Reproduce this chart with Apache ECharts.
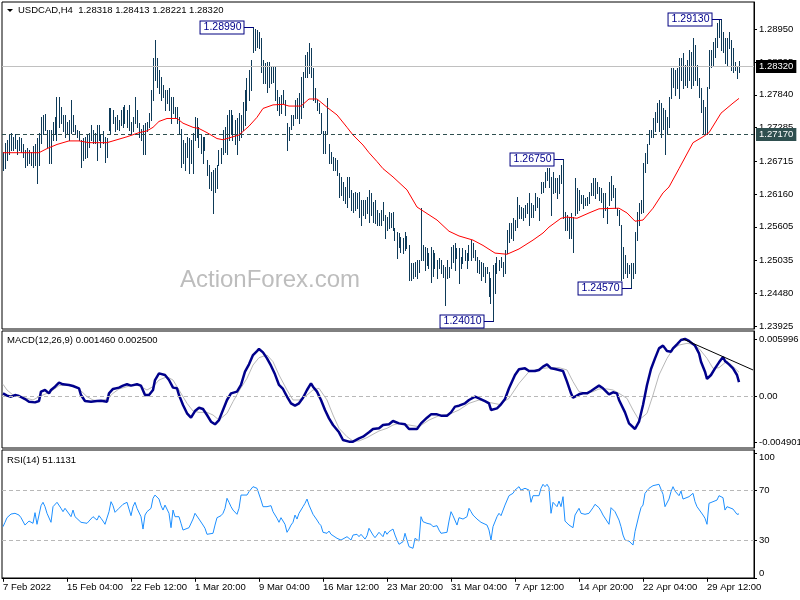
<!DOCTYPE html>
<html><head><meta charset="utf-8">
<script src="https://cdn.jsdelivr.net/npm/echarts@6/dist/echarts.min.js"></script>
<style>html,body{margin:0;padding:0;background:#fff}#c{width:800px;height:600px}</style>
</head><body><div id="c"></div>
<script>
// ---------- DATA ----------
const symbolName = 'USDCAD,H4';
const lastOHLC = [1.28318, 1.28413, 1.28221, 1.28320];
const macdLegend = [0.001460, 0.002500];
const rsiLegend = 51.1131;
const xTickLabels = ['7 Feb 2022','15 Feb 04:00','22 Feb 12:00','1 Mar 20:00','9 Mar 04:00','16 Mar 12:00','23 Mar 20:00','31 Mar 04:00','7 Apr 12:00','14 Apr 20:00','22 Apr 04:00','29 Apr 12:00'];
const priceTicks = [1.28950,1.28395,1.27840,1.27285,1.26715,1.26160,1.25605,1.25035,1.24480,1.23925];
const macdTicks = [0.005996, 0, -0.004901];
const rsiTicks = [100, 70, 30, 0];
const rsiLevels = [70, 30];
const currentPrice = 1.28320;
const supportLevel = 1.27170;

const barHigh = [
1.2688,1.2703,1.2708,1.2717,1.2720,1.2713,1.2717,1.2708,1.2713,1.2711,
1.2700,1.2691,1.2694,1.2691,1.2688,1.2698,1.2700,1.2711,1.2720,1.2746,
1.2750,1.2751,1.2725,1.2725,1.2725,1.2738,1.2746,1.2780,1.2780,1.2763,
1.2750,1.2750,1.2738,1.2741,1.2775,1.2750,1.2733,1.2725,1.2722,1.2708,
1.2711,1.2713,1.2717,1.2720,1.2733,1.2725,1.2720,1.2733,1.2733,1.2717,
1.2722,1.2713,1.2711,1.2761,1.2761,1.2758,1.2746,1.2750,1.2741,1.2758,
1.2763,1.2767,1.2758,1.2767,1.2738,1.2746,1.2780,1.2758,1.2736,1.2727,
1.2733,1.2736,1.2738,1.2753,1.2792,1.2846,1.2877,1.2846,1.2826,1.2814,
1.2801,1.2792,1.2792,1.2795,1.2780,1.2780,1.2763,1.2763,1.2746,1.2727,
1.2708,1.2703,1.2713,1.2711,1.2708,1.2720,1.2746,1.2744,1.2729,1.2717,
1.2713,1.2713,1.2674,1.2666,1.2654,1.2657,1.2660,1.2666,1.2691,1.2694,
1.2725,1.2729,1.2750,1.2758,1.2758,1.2750,1.2741,1.2744,1.2753,1.2750,
1.2772,1.2792,1.2812,1.2826,1.2843,1.2899,1.2896,1.2894,1.2891,1.2880,
1.2843,1.2838,1.2840,1.2840,1.2831,1.2831,1.2831,1.2792,1.2780,1.2784,
1.2792,1.2775,1.2736,1.2729,1.2750,1.2750,1.2775,1.2778,1.2787,1.2814,
1.2823,1.2851,1.2857,1.2872,1.2863,1.2829,1.2795,1.2775,1.2770,1.2753,
1.2722,1.2722,1.2778,1.2700,1.2688,1.2679,1.2677,1.2674,1.2652,1.2645,
1.2637,1.2628,1.2645,1.2645,1.2623,1.2618,1.2620,1.2618,1.2620,1.2606,
1.2606,1.2606,1.2611,1.2623,1.2618,1.2603,1.2606,1.2589,1.2584,1.2589,
1.2603,1.2580,1.2577,1.2586,1.2584,1.2586,1.2558,1.2552,1.2550,1.2543,
1.2541,1.2552,1.2545,1.2529,1.2499,1.2499,1.2501,1.2504,1.2504,1.2592,
1.2529,1.2526,1.2524,1.2516,1.2526,1.2521,1.2516,1.2504,1.2507,1.2504,
1.2495,1.2492,1.2504,1.2492,1.2526,1.2529,1.2533,1.2524,1.2524,1.2509,
1.2524,1.2521,1.2516,1.2529,1.2538,1.2533,1.2521,1.2509,1.2504,1.2501,
1.2499,1.2492,1.2492,1.2484,1.2473,1.2495,1.2499,1.2509,1.2504,1.2509,
1.2501,1.2521,1.2555,1.2567,1.2567,1.2575,1.2572,1.2611,1.2597,1.2594,
1.2592,1.2597,1.2601,1.2618,1.2601,1.2597,1.2618,1.2611,1.2609,1.2637,
1.2637,1.2654,1.2660,1.2660,1.2645,1.2654,1.2643,1.2643,1.2648,1.2666,
1.2675,1.2586,1.2580,1.2577,1.2584,1.2577,1.2643,1.2626,1.2623,1.2614,
1.2614,1.2609,1.2611,1.2620,1.2635,1.2643,1.2643,1.2637,1.2628,1.2626,
1.2618,1.2618,1.2594,1.2637,1.2647,1.2631,1.2626,1.2592,1.2589,1.2563,
1.2526,1.2512,1.2499,1.2495,1.2499,1.2499,1.2552,1.2586,1.2601,1.2606,
1.2669,1.2686,1.2700,1.2725,1.2725,1.2744,1.2755,1.2770,1.2775,1.2770,
1.2761,1.2758,1.2746,1.2780,1.2829,1.2829,1.2826,1.2829,1.2846,1.2846,
1.2855,1.2834,1.2843,1.2860,1.2857,1.2880,1.2868,1.2834,1.2812,1.2795,
1.2775,1.2763,1.2797,1.2860,1.2860,1.2874,1.2880,1.2906,1.2911,1.2913,
1.2891,1.2880,1.2880,1.2891,1.2877,1.2863,1.2840,1.2831,1.2841];

const barLow = [
1.2657,1.2660,1.2674,1.2683,1.2691,1.2691,1.2694,1.2683,1.2691,1.2688,
1.2679,1.2662,1.2666,1.2669,1.2666,1.2662,1.2666,1.2635,1.2666,1.2703,
1.2717,1.2725,1.2696,1.2669,1.2669,1.2708,1.2717,1.2708,1.2729,1.2736,
1.2722,1.2713,1.2717,1.2708,1.2720,1.2722,1.2717,1.2713,1.2708,1.2662,
1.2674,1.2677,1.2679,1.2696,1.2708,1.2703,1.2703,1.2674,1.2708,1.2696,
1.2703,1.2671,1.2679,1.2725,1.2720,1.2736,1.2722,1.2727,1.2725,1.2733,
1.2729,1.2736,1.2729,1.2725,1.2720,1.2722,1.2736,1.2729,1.2713,1.2708,
1.2683,1.2683,1.2722,1.2729,1.2741,1.2775,1.2809,1.2797,1.2787,1.2775,
1.2780,1.2758,1.2770,1.2758,1.2736,1.2753,1.2746,1.2736,1.2720,1.2662,
1.2669,1.2657,1.2679,1.2652,1.2669,1.2652,1.2708,1.2713,1.2696,1.2686,
1.2669,1.2691,1.2648,1.2626,1.2623,1.2584,1.2620,1.2626,1.2666,1.2669,
1.2683,1.2688,1.2683,1.2708,1.2717,1.2708,1.2700,1.2683,1.2708,1.2713,
1.2725,1.2733,1.2758,1.2775,1.2792,1.2857,1.2860,1.2865,1.2863,1.2823,
1.2804,1.2804,1.2789,1.2797,1.2804,1.2806,1.2775,1.2758,1.2750,1.2753,
1.2770,1.2750,1.2691,1.2708,1.2727,1.2733,1.2744,1.2744,1.2736,1.2744,
1.2763,1.2814,1.2814,1.2821,1.2814,1.2775,1.2772,1.2758,1.2753,1.2720,
1.2686,1.2686,1.2717,1.2669,1.2669,1.2657,1.2657,1.2648,1.2611,1.2614,
1.2606,1.2601,1.2594,1.2611,1.2589,1.2586,1.2589,1.2592,1.2577,1.2563,
1.2580,1.2575,1.2584,1.2569,1.2580,1.2569,1.2567,1.2563,1.2563,1.2563,
1.2572,1.2541,1.2555,1.2558,1.2560,1.2555,1.2538,1.2507,1.2526,1.2518,
1.2516,1.2521,1.2524,1.2470,1.2470,1.2473,1.2478,1.2473,1.2484,1.2504,
1.2504,1.2487,1.2495,1.2490,1.2467,1.2478,1.2490,1.2473,1.2490,1.2482,
1.2475,1.2428,1.2473,1.2475,1.2490,1.2501,1.2487,1.2507,1.2465,1.2490,
1.2499,1.2504,1.2490,1.2504,1.2504,1.2509,1.2504,1.2484,1.2482,1.2470,
1.2478,1.2467,1.2482,1.2443,1.2432,1.2401,1.2448,1.2482,1.2487,1.2492,
1.2478,1.2482,1.2516,1.2535,1.2541,1.2538,1.2555,1.2560,1.2575,1.2575,
1.2572,1.2577,1.2584,1.2563,1.2577,1.2577,1.2589,1.2594,1.2572,1.2618,
1.2620,1.2628,1.2640,1.2628,1.2580,1.2618,1.2620,1.2609,1.2618,1.2635,
1.2575,1.2555,1.2555,1.2541,1.2541,1.2518,1.2580,1.2584,1.2589,1.2601,
1.2592,1.2597,1.2597,1.2601,1.2614,1.2614,1.2609,1.2618,1.2606,1.2603,
1.2577,1.2589,1.2567,1.2597,1.2606,1.2611,1.2592,1.2580,1.2563,1.2470,
1.2473,1.2482,1.2475,1.2482,1.2457,1.2473,1.2482,1.2538,1.2563,1.2584,
1.2586,1.2654,1.2669,1.2700,1.2713,1.2713,1.2722,1.2738,1.2722,1.2713,
1.2727,1.2683,1.2720,1.2729,1.2778,1.2797,1.2784,1.2795,1.2778,1.2809,
1.2795,1.2801,1.2797,1.2809,1.2795,1.2801,1.2809,1.2801,1.2780,1.2755,
1.2720,1.2720,1.2717,1.2795,1.2831,1.2834,1.2848,1.2865,1.2882,1.2860,
1.2857,1.2838,1.2834,1.2863,1.2826,1.2823,1.2826,1.2812,1.2822];

// moving average (read at sampled bars)
const maIdx = [0,18,22,27,33,38,43,48,52,55,62,68,72,75,78,82,87,90,95,98,102,107,110,115,118,123,127,130,135,140,143,149,153,157,162,167,172,175,180,183,187,190,195,202,207,217,223,228,235,240,246,252,258,265,270,273,279,282,287,293,298,308,312,316,320,325,330,333,338,345,350,353,359,365,368];
const maVal = [1.2686,1.2686,1.2693,1.2700,1.2706,1.2706,1.2703,1.2703,1.2703,1.2706,1.2713,1.2720,1.2723,1.2729,1.2739,1.2744,1.2744,1.2736,1.2729,1.2727,1.2720,1.2710,1.2708,1.2713,1.2716,1.2731,1.2746,1.2761,1.2767,1.2768,1.2765,1.2765,1.2777,1.2777,1.2763,1.2750,1.2729,1.2716,1.2699,1.2686,1.2671,1.2659,1.2645,1.2623,1.2594,1.2572,1.2553,1.2545,1.2538,1.2529,1.2516,1.2514,1.2523,1.2538,1.2550,1.2560,1.2575,1.2577,1.2575,1.2584,1.2591,1.2592,1.2584,1.2570,1.2572,1.2592,1.2618,1.2628,1.2659,1.2703,1.2713,1.2720,1.2753,1.2770,1.2778];

// MACD main line
const macdIdx = [0,2,4,6,8,11,13,16,18,19,21,23,24,26,28,30,33,35,38,39,41,44,47,49,52,53,55,58,60,62,64,67,69,71,73,75,76,78,79,81,83,85,87,88,90,92,94,96,98,100,102,104,106,108,110,112,114,117,119,121,123,125,127,128,130,132,134,136,138,140,142,144,146,148,150,152,154,155,157,159,161,163,165,168,170,173,175,178,180,183,185,188,190,193,195,198,201,203,207,209,212,214,217,219,222,224,226,228,231,233,236,238,241,243,244,247,249,251,253,256,258,261,263,266,268,270,272,274,276,278,280,282,284,285,288,290,292,294,296,298,300,303,305,307,308,311,313,316,318,320,322,324,326,328,330,332,334,335,337,339,341,343,344,346,348,349,351,352,354,356,358,360,361,363,365,367,368];
const macdVal = [0.00028,0.00004,-0.00007,0.0001,0,-0.00032,-0.0006,-0.00067,-0.00053,0.00046,0.00063,0.00028,0.00063,0.00098,0.0014,0.00123,0.00116,0.00105,0.00081,0.0001,-0.00053,-0.0006,-0.00053,-0.00049,-0.0006,0.00028,0.00074,0.00088,0.00109,0.00123,0.00109,0.00123,0.00109,0.0001,0.0001,0.00063,0.00168,0.00238,0.00256,0.00221,0.00168,0.00088,0.00081,0.0001,-0.00095,-0.00182,-0.00228,-0.00158,-0.00123,-0.00137,-0.002,-0.0027,-0.00298,-0.00253,-0.00147,-0.00042,0.00028,0.00046,0.00116,0.00256,0.00333,0.00431,0.00473,0.00495,0.00459,0.00396,0.00319,0.00228,0.00116,0.00074,-0.00007,-0.00077,-0.00102,-0.00077,-0.00018,0.00063,0.00133,0.00098,0.00046,-0.00042,-0.00147,-0.00235,-0.00305,-0.00382,-0.00463,-0.0048,-0.0048,-0.00445,-0.00428,-0.00382,-0.00347,-0.0034,-0.00305,-0.00298,-0.00263,-0.00288,-0.00298,-0.00347,-0.00347,-0.00288,-0.00228,-0.00193,-0.00193,-0.00207,-0.00207,-0.00172,-0.00112,-0.00102,-0.00077,-0.00042,-0.00007,-0.00025,-0.00053,-0.00077,-0.00147,-0.0013,-0.00088,-0.00032,0.00081,0.00221,0.00281,0.00291,0.00263,0.00263,0.00274,0.00309,0.00333,0.00291,0.00284,0.00274,0.00263,0.00151,0.00028,-0.00018,0.00018,0.00028,0.00028,0.00053,0.00081,0.00109,0.00081,0.00018,0.00039,0.00028,-0.00042,-0.00172,-0.00288,-0.00347,-0.0027,-0.00095,0.00116,0.00284,0.00396,0.00501,0.0053,0.00473,0.00466,0.00501,0.00544,0.00589,0.006,0.00579,0.00565,0.0053,0.00449,0.00361,0.00256,0.00179,0.00221,0.00291,0.00354,0.0041,0.00368,0.00333,0.00291,0.00221,0.00146];

// MACD signal line
const sigIdx = [0,2,5,8,12,15,18,22,25,28,32,35,38,42,45,48,52,55,58,62,65,68,72,75,78,82,85,88,92,95,98,102,105,108,112,115,118,122,125,128,132,135,138,142,145,148,152,155,158,162,165,168,172,175,178,182,185,188,192,195,198,203,208,213,218,223,228,233,238,243,248,253,258,263,268,273,278,282,285,288,292,295,298,302,305,308,312,315,318,322,325,328,332,335,338,342,345,348,352,355,358,362,365,368];
const sigVal = [0.00123,0.00063,0.0001,-0.00007,-0.00025,-0.00042,-0.00007,0.00028,0.00063,0.00109,0.00116,0.00109,0.00074,-0.00007,-0.00042,-0.00053,-0.00032,0.00028,0.00074,0.00098,0.00116,0.00109,0.00063,0.00098,0.00168,0.00203,0.00168,0.00063,-0.00077,-0.00158,-0.00172,-0.00172,-0.002,-0.00253,-0.00182,-0.0006,0.00053,0.00186,0.00326,0.00403,0.00431,0.00361,0.00221,0.00063,-0.00042,-0.00042,0.0001,0.00063,0.00081,-0.00042,-0.002,-0.0034,-0.00428,-0.00473,-0.00473,-0.00438,-0.00403,-0.00368,-0.0034,-0.00305,-0.00288,-0.00305,-0.00323,-0.00253,-0.00207,-0.00193,-0.00147,-0.00077,-0.00042,-0.00067,-0.00088,-0.00025,0.00133,0.00256,0.00284,0.00298,0.00298,0.00274,0.00151,0.00046,0.00028,0.00046,0.00074,0.00074,0.00063,0.00028,-0.00025,-0.00147,-0.00253,-0.00182,0.0001,0.00221,0.00396,0.00494,0.00536,0.00554,0.00544,0.00501,0.00396,0.00291,0.00298,0.00368,0.0031,0.0025];

// MACD trend line
const trendIdx = [340, 375];
const trendVal = [0.00600, 0.00274];

// RSI
const rsiIdx = [0,1,2,3,4,6,8,9,11,12,13,15,16,17,19,20,21,22,24,25,26,27,29,30,31,32,34,35,36,37,39,40,42,43,45,46,47,48,49,50,51,53,54,55,56,58,59,60,62,63,64,65,66,67,69,70,71,72,74,75,76,77,78,79,80,81,83,84,85,86,88,89,90,91,93,94,95,96,97,98,100,101,102,103,105,106,107,109,110,111,112,113,114,115,117,118,119,120,122,123,124,125,127,128,129,130,132,133,134,135,137,138,139,140,141,142,143,144,145,146,147,148,150,151,152,153,154,155,157,158,159,160,161,162,163,164,165,167,168,169,170,172,173,174,175,177,178,179,181,182,183,185,186,187,188,190,191,192,193,195,196,197,198,200,201,202,203,205,206,207,208,209,210,212,213,214,215,217,218,219,220,222,223,224,225,227,228,229,230,232,233,234,235,237,238,239,240,242,243,244,245,247,248,249,250,251,253,254,255,256,258,259,260,261,263,264,265,266,268,269,270,271,272,273,274,275,277,278,279,280,281,283,284,285,286,288,289,290,291,293,294,295,296,298,299,300,301,303,304,305,306,308,309,310,311,313,314,315,316,318,319,320,321,323,324,325,326,328,329,330,331,333,334,335,336,338,339,340,341,343,344,345,346,347,348,350,351,352,353,355,356,357,358,360,361,362,363,365,366,367,368];
const rsiVal = [40.9,44.4,48.1,47.0,51.0,51.6,50.2,48.1,42.2,41.4,45.4,43.6,52.1,42.8,57.7,60.4,56.9,51.6,44.4,56.9,55.6,60.4,55.6,52.9,55.6,56.1,48.9,54.2,48.9,49.7,44.4,42.8,43.6,45.4,48.9,49.7,46.2,49.7,47.6,45.4,42.8,52.9,60.9,57.7,52.4,55.6,56.9,58.8,60.4,55.0,49.7,56.9,60.4,55.6,48.9,39.0,50.2,52.9,55.6,63.6,66.2,67.6,63.0,57.7,54.2,58.2,51.6,40.1,54.2,48.9,48.9,43.6,38.2,39.6,40.1,39.0,47.0,51.6,50.2,47.0,42.2,39.6,34.8,36.4,35.6,42.2,48.1,49.7,51.6,55.6,63.6,60.4,56.9,54.2,50.8,55.6,66.2,67.6,66.2,68.9,68.4,72.9,71.6,71.0,62.2,56.9,56.9,55.6,57.7,52.9,47.6,44.4,48.1,48.9,42.8,36.4,39.0,42.2,44.4,50.2,47.0,51.6,56.9,59.6,63.0,58.2,59.6,50.8,46.2,43.6,41.7,36.4,37.4,35.6,37.4,34.8,33.7,31.6,32.9,30.2,29.4,32.9,31.6,30.2,34.2,34.8,32.9,34.8,31.0,33.7,39.6,34.2,32.1,34.2,36.4,32.9,37.4,34.8,36.9,39.0,34.2,30.2,26.8,28.9,35.6,30.2,24.9,23.6,31.6,30.2,29.4,48.9,44.9,43.6,42.2,42.8,40.9,41.7,38.2,35.6,34.2,36.4,45.4,52.9,49.7,42.2,48.1,48.9,47.0,48.9,55.6,52.9,50.2,47.0,45.4,44.4,44.9,42.2,38.2,30.2,40.9,48.9,51.6,49.7,49.7,58.2,65.7,66.8,67.6,70.2,72.9,70.2,70.2,71.6,70.2,60.4,65.7,65.7,65.7,71.6,74.8,72.9,74.8,72.1,51.6,60.4,56.9,61.4,56.9,64.9,45.4,42.2,41.7,40.1,50.2,55.6,51.6,52.9,50.8,51.6,52.9,56.1,58.8,56.1,53.4,50.2,48.9,42.8,56.1,55.0,52.9,46.2,40.9,34.2,30.2,29.4,28.9,26.2,36.9,50.2,56.1,58.2,67.6,71.6,72.1,73.7,73.7,74.8,76.4,66.8,56.9,63.0,68.9,72.9,69.4,65.7,69.4,63.0,64.1,64.9,65.7,67.6,60.9,56.9,56.9,50.2,47.6,42.8,59.6,60.9,62.2,62.2,65.7,64.1,54.2,56.9,58.2,55.0,53.4,50.8,51.11];

// swing annotations
const annotIdx = [125, 245, 280, 314, 359];
const annotPrice = [1.28990, 1.24010, 1.26750, 1.24570, 1.29130];

// ---------- CHART ----------
const FONT = '"Liberation Sans", Arial, sans-serif';
const BAR_COLOR = '#0e3a58';
const NCAT = 376;
const cats = Array.from({length: NCAT}, (_, i) => i);
const pair = (a, b) => a.map((x, k) => [x, b[k]]);
const tickShown = i => i % 32 === 0 && (i / 32) < xTickLabels.length;

const grids = [
  {left: 2, right: 46, top: 2, height: 327},
  {left: 2, right: 46, top: 331, height: 117},
  {left: 2, right: 46, top: 450, height: 128}
].map(g => Object.assign(g, {show: true, borderColor: '#000', borderWidth: 1, backgroundColor: '#fff', outerBoundsMode: 'none', containLabel: false}));

function xAx(gi, show) {
  return {
    type: 'category', gridIndex: gi, data: cats, boundaryGap: true,
    axisLine: {show: show, lineStyle: {color: '#000'}},
    axisTick: {show: show, alignWithLabel: true, interval: tickShown, length: 4, lineStyle: {color: '#000'}},
    axisLabel: {show: show, interval: tickShown, formatter: (v, i) => xTickLabels[i / 32] || '',
      align: 'left', margin: 4, color: '#000', fontFamily: FONT, fontSize: 9.5},
    splitLine: {show: false}
  };
}
function yAx(gi, min, max, ticks, fmt) {
  return {
    type: 'value', gridIndex: gi, position: 'right', min: min, max: max, scale: true,
    axisLine: {show: true, lineStyle: {color: '#000'}},
    axisTick: {show: true, length: 3, customValues: ticks, lineStyle: {color: '#000'}},
    axisLabel: {customValues: ticks, formatter: fmt, margin: 5, color: '#000', fontFamily: FONT, fontSize: 9.5,
      rich: {top: {padding: [9, 0, 0, 0], fontFamily: FONT, fontSize: 9.5, color: '#000'},
             bot: {padding: [0, 0, 9, 0], fontFamily: FONT, fontSize: 9.5, color: '#000'}}},
    splitLine: {show: false}
  };
}

const chart = echarts.init(document.getElementById('c'), null, {renderer: 'canvas'});
chart.setOption({
  animation: false,
  backgroundColor: '#fff',
  grid: grids,
  xAxis: [xAx(0, false), xAx(1, false), xAx(2, true)],
  yAxis: [
    yAx(0, 1.238742, 1.294128, priceTicks, v => v.toFixed(5)),
    yAx(1, -0.00547, 0.006838, macdTicks, v => v === 0 ? '0.00' : v.toFixed(6)),
    yAx(2, -0.16, 102.24, rsiTicks, v => v === 100 ? '{top|100}' : (v === 0 ? '{bot|0}' : String(v)))
  ],
  graphic: [
    {type: 'text', left: 180, top: 268, z: 0, silent: true,
      style: {text: 'ActionForex.com', font: '24px ' + FONT, fill: '#bdbdbd'}},
    {type: 'polygon', z: 50, shape: {points: [[7, 9], [13, 9], [10, 12]]}, style: {fill: '#000'}},
    {type: 'text', left: 18, top: 5, z: 50,
      style: {text: symbolName + '  ' + lastOHLC.map(v => v.toFixed(5)).join(' '), font: '9.5px ' + FONT, fill: '#000'}},
    {type: 'text', left: 7, top: 335, z: 50,
      style: {text: 'MACD(12,26,9) ' + macdLegend.map(v => v.toFixed(6)).join(' '), font: '9.5px ' + FONT, fill: '#000'}},
    {type: 'text', left: 7, top: 455, z: 50,
      style: {text: 'RSI(14) ' + rsiLegend.toFixed(4), font: '9.5px ' + FONT, fill: '#000'}}
  ],
  series: [
    {
      type: 'custom', name: 'bars', xAxisIndex: 0, yAxisIndex: 0, silent: true, z: 3,
      data: barHigh.map((h, i) => [i, h, barLow[i]]),
      encode: {x: 0, y: [1, 2]},
      renderItem: (params, api) => {
        const i = api.value(0);
        const p1 = api.coord([i, api.value(1)]);
        const p2 = api.coord([i, api.value(2)]);
        const x = Math.floor(p1[0]) + 0.5;
        return {type: 'line', shape: {x1: x, y1: Math.round(p1[1]), x2: x, y2: Math.round(p2[1]) + 1},
          style: {stroke: BAR_COLOR, lineWidth: 1}};
      }
    },
    {
      type: 'line', name: 'MA', xAxisIndex: 0, yAxisIndex: 0, silent: true, z: 4,
      data: pair(maIdx, maVal), symbol: 'none', lineStyle: {color: '#ff0000', width: 1},
      markLine: {
        silent: true, symbol: ['none', 'none'], animation: false, precision: 5,
        data: [
          {yAxis: currentPrice, lineStyle: {color: '#c0c0c0', width: 1, type: 'solid'},
            label: {show: true, position: 'end', distance: 2, formatter: currentPrice.toFixed(5), color: '#fff',
              backgroundColor: '#000', padding: [2, 3, 1, 3], fontFamily: FONT, fontSize: 9.5}},
          {yAxis: supportLevel, lineStyle: {color: '#2f4f4f', width: 1, type: [4, 3]},
            label: {show: true, position: 'end', distance: 2, formatter: supportLevel.toFixed(5), color: '#fff',
              backgroundColor: '#2f4f4f', padding: [2, 3, 1, 3], fontFamily: FONT, fontSize: 9.5}}
        ]
      }
    },
    {
      type: 'custom', name: 'annot', xAxisIndex: 0, yAxisIndex: 0, silent: true, z: 10,
      data: pair(annotIdx, annotPrice),
      encode: {x: 0, y: 1},
      renderItem: (params, api) => {
        const p = api.coord([api.value(0), api.value(1)]);
        const x = Math.floor(p[0]) + 0.5, y = Math.round(p[1]) + 0.5;
        return {type: 'group', children: [
          {type: 'line', shape: {x1: x - 10, y1: y, x2: x, y2: y}, style: {stroke: '#000080', lineWidth: 1}},
          {type: 'text', x: x - 10, y: y, style: {text: api.value(1).toFixed(5), align: 'right', verticalAlign: 'middle',
            fill: '#00008b', font: '10.5px ' + FONT, backgroundColor: '#fff', borderColor: '#000080', borderWidth: 1,
            padding: [1, 2, 0, 3]}}
        ]};
      }
    },
    {
      type: 'line', name: 'signal', xAxisIndex: 1, yAxisIndex: 1, silent: true, z: 3,
      data: pair(sigIdx, sigVal), symbol: 'none', lineStyle: {color: '#b8b8b8', width: 1},
      markLine: {silent: true, symbol: ['none', 'none'], label: {show: false}, precision: 6,
        data: [{yAxis: 0}], lineStyle: {color: '#b8b8b8', width: 1, type: [4, 3]}}
    },
    {
      type: 'line', name: 'macd', xAxisIndex: 1, yAxisIndex: 1, silent: true, z: 4,
      data: pair(macdIdx, macdVal), symbol: 'none', lineStyle: {color: '#00008b', width: 2.5}
    },
    {
      type: 'line', name: 'trend', xAxisIndex: 1, yAxisIndex: 1, silent: true, z: 5,
      data: pair(trendIdx, trendVal), symbol: 'none', lineStyle: {color: '#000', width: 1}
    },
    {
      type: 'line', name: 'rsi', xAxisIndex: 2, yAxisIndex: 2, silent: true, z: 4,
      data: pair(rsiIdx, rsiVal), symbol: 'none', lineStyle: {color: '#1e90ff', width: 1},
      markLine: {silent: true, symbol: ['none', 'none'], label: {show: false},
        data: rsiLevels.map(v => ({yAxis: v})), lineStyle: {color: '#b8b8b8', width: 1, type: [4, 3]}}
    }
  ]
});
</script>
</body></html>
